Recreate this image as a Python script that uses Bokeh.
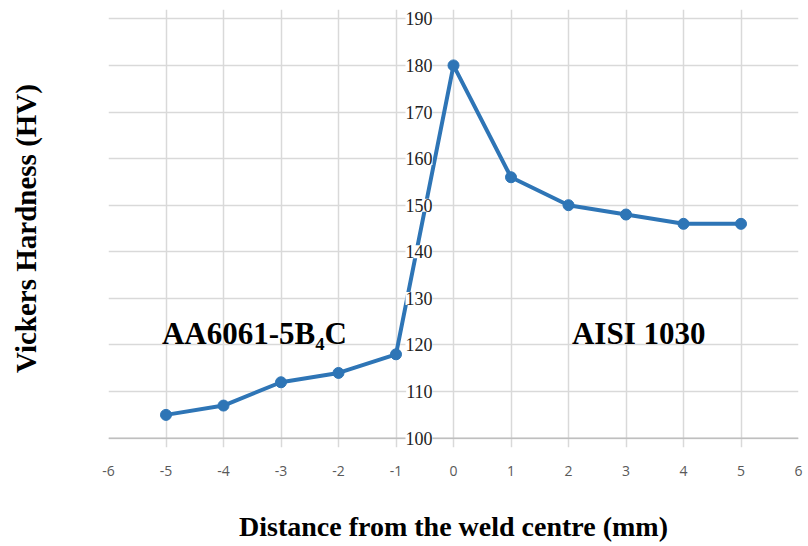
from bokeh.plotting import figure
from bokeh.embed import file_html
from bokeh.resources import INLINE
from bokeh.core.properties import value
from bokeh.models import FixedTicker, Range1d, LabelSet, ColumnDataSource, Span

# data
distance = [-5, -4, -3, -2, -1, 0, 1, 2, 3, 4, 5]
hardness = [105, 107, 112, 114, 118, 180, 156, 150, 148, 146, 146]

x_ticks = list(range(-6, 7))
x_tick_labels = {t: str(t) for t in x_ticks}
y_ticks = [100, 110, 120, 130, 140, 150, 160, 170, 180, 190]
y_tick_labels = [str(v) for v in y_ticks]

region_labels = ["AA6061-5B\u2084C", "AISI 1030"]
region_x = [-5.07, 2.06]
region_y = [122.5, 122.5]

BLUE = "#2e75b6"
GRID = "#d9d9d9"

# a little room above 190 / below 100 so the tick labels at x = 0 are not clipped
p = figure(width=808, height=546, output_backend="svg", toolbar_location=None,
           x_range=Range1d(-6, 6), y_range=Range1d(y_ticks[0] - 2, y_ticks[-1] + 2),
           min_border_left=108, min_border_right=10, min_border_top=9, min_border_bottom=99)
p.outline_line_color = None
p.background_fill_color = "white"

p.xaxis.ticker = FixedTicker(ticks=x_ticks)
p.xgrid.ticker = FixedTicker(ticks=x_ticks)
p.yaxis.ticker = FixedTicker(ticks=[])
p.ygrid.ticker = FixedTicker(ticks=y_ticks)
p.xgrid.grid_line_color = GRID
p.ygrid.grid_line_color = GRID
p.xgrid.grid_line_width = 1.5
p.ygrid.grid_line_width = 1.5
p.xgrid.bounds = (y_ticks[0], y_ticks[-1])

# x axis: labels only; the baseline is drawn at y = 100
p.xaxis.axis_line_color = None
p.xaxis.major_tick_line_color = None
p.xaxis.minor_tick_line_color = None
p.xaxis.major_tick_out = 0
p.xaxis.major_label_overrides = x_tick_labels
p.xaxis.major_label_standoff = 18
p.xaxis.major_label_text_font = "Open Sans"
p.xaxis.major_label_text_font_size = "14px"
p.xaxis.major_label_text_color = "#595959"
p.xaxis.axis_label = "Distance from the weld centre (mm)"
p.xaxis.axis_label_text_font = "Liberation Serif"
p.xaxis.axis_label_text_font_style = "bold"
p.xaxis.axis_label_text_font_size = "28px"
p.xaxis.axis_label_text_color = "black"
p.xaxis.axis_label_standoff = 32
p.add_layout(Span(location=y_ticks[0], dimension="width", line_color="#bfbfbf", line_width=1.5))

# y axis: title only (its tick labels are drawn at x = 0)
p.yaxis.axis_line_color = None
p.yaxis.major_tick_line_color = None
p.yaxis.minor_tick_line_color = None
p.yaxis.major_tick_out = 0
p.yaxis.axis_label = "Vickers Hardness (HV)"
p.yaxis.axis_label_text_font = "Liberation Serif"
p.yaxis.axis_label_text_font_style = "bold"
p.yaxis.axis_label_text_font_size = "29px"
p.yaxis.axis_label_text_color = "black"
p.yaxis.axis_label_standoff = 67

tick_src = ColumnDataSource(dict(x=[0] * len(y_ticks), y=y_ticks, text=y_tick_labels))
p.add_layout(LabelSet(x="x", y="y", text="text", source=tick_src, x_offset=-21,
                      text_align="right", text_baseline="middle",
                      text_font="DejaVu Serif", text_font_size="18px", text_color="#222222",
                      background_fill_color="white"))

p.line(distance, hardness, line_color=BLUE, line_width=4)
p.scatter(distance, hardness, size=11, fill_color=BLUE, line_color=BLUE)

p.text(x=region_x, y=region_y, text=region_labels, text_align="left",
       text_baseline="alphabetic", text_font=value("Liberation Serif"),
       text_font_style="bold", text_font_size="31px", text_color="black")

open("out.html", "w").write(file_html(p, INLINE))
